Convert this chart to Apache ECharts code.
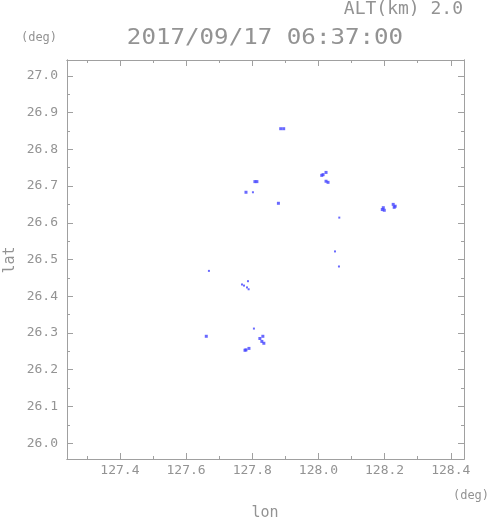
<!DOCTYPE html>
<html><head><meta charset="utf-8">
<script src="https://cdn.jsdelivr.net/npm/echarts@6/dist/echarts.min.js"></script>
<style>html,body{margin:0;padding:0;background:#fff}#c{width:491px;height:521px}</style>
</head><body><div id="c"></div>
<script>
// axis extents (deg)
const lonRange = [127.24, 128.44];
const latRange = [25.957, 27.043];
// tick positions / labels
const lonMajorTicks = [127.4, 127.6, 127.8, 128.0, 128.2, 128.4];
const lonMinorTicks = [127.3, 127.5, 127.7, 127.9, 128.1, 128.3];
const latMajorTicks = [26.0, 26.1, 26.2, 26.3, 26.4, 26.5, 26.6, 26.7, 26.8, 26.9, 27.0];
const latMinorTicks = [26.05, 26.15, 26.25, 26.35, 26.45, 26.55, 26.65, 26.75, 26.85, 26.95];
// texts
const titleText = '2017/09/17 06:37:00';
const altText = 'ALT(km) 2.0';
const unitText = '(deg)';
const xName = 'lon';
const yName = 'lat';
// echo cells (larger pixels)
const cellLon = [127.886, 127.895, 128.023, 128.014, 128.010, 128.023, 128.029, 127.808, 127.814,
  127.781, 127.879, 128.193, 128.199, 128.196, 128.226, 128.232, 128.229,
  127.661, 127.832, 127.823, 127.829, 127.835, 127.781, 127.790, 127.778];
const cellLat = [26.856, 26.856, 26.737, 26.731, 26.729, 26.713, 26.710, 26.712, 26.712,
  26.683, 26.653, 26.636, 26.634, 26.641, 26.650, 26.645, 26.642,
  26.291, 26.291, 26.285, 26.277, 26.272, 26.254, 26.258, 26.253];
// isolated specks (small pixels)
const speckLon = [127.802, 128.063, 128.050, 128.062, 127.669, 127.769, 127.775, 127.784, 127.789, 127.787, 127.805];
const speckLat = [26.683, 26.614, 26.522, 26.481, 26.469, 26.432, 26.429, 26.424, 26.419, 26.441, 26.312];

const AX = '#a0a0a0', TX = '#939393';
const FONT = 'DejaVu Sans Mono';
const BLUE = '#4444ff';

function tickAxis(pos, range, ticks, len, labels) {
  return {
    type: 'value', position: pos, min: range[0], max: range[1],
    axisLine: { show: true, onZero: false, lineStyle: { color: AX, width: 1 } },
    axisTick: { show: true, inside: true, length: len, customValues: ticks, lineStyle: { color: AX, width: 1 } },
    axisLabel: labels ? {
      show: true, customValues: ticks, formatter: v => v.toFixed(1),
      color: TX, fontFamily: FONT, fontSize: 13, margin: pos === 'bottom' ? 5 : 9
    } : { show: false },
    splitLine: { show: false }, minorTick: { show: false }, minorSplitLine: { show: false }
  };
}

const chart = echarts.init(document.getElementById('c'));
chart.setOption({
  animation: false,
  backgroundColor: '#fff',
  grid: { left: 67, right: 27, top: 60, bottom: 62, containLabel: false },
  xAxis: [
    tickAxis('bottom', lonRange, lonMajorTicks, 6, true),
    tickAxis('bottom', lonRange, lonMinorTicks, 3, false),
    tickAxis('top', lonRange, lonMajorTicks, 6, false),
    tickAxis('top', lonRange, lonMinorTicks, 3, false)
  ],
  yAxis: [
    tickAxis('left', latRange, latMajorTicks, 6, true),
    tickAxis('left', latRange, latMinorTicks, 3, false),
    tickAxis('right', latRange, latMajorTicks, 6, false),
    tickAxis('right', latRange, latMinorTicks, 3, false)
  ],
  series: [
    { type: 'scatter', xAxisIndex: 0, yAxisIndex: 0, symbol: 'rect', symbolSize: 3, silent: true,
      itemStyle: { color: BLUE }, data: cellLon.map((v, i) => [v, cellLat[i]]) },
    { type: 'scatter', xAxisIndex: 0, yAxisIndex: 0, symbol: 'rect', symbolSize: 2, silent: true,
      itemStyle: { color: BLUE }, data: speckLon.map((v, i) => [v, speckLat[i]]) }
  ],
  graphic: [
    { type: 'text', x: 265, y: 39, scaleX: 1.15, style: { text: titleText, font: '21px "DejaVu Sans Mono"', fill: TX, align: 'center', verticalAlign: 'middle' } },
    { type: 'text', x: 463, y: 9, style: { text: altText, font: '18px "DejaVu Sans Mono"', fill: TX, align: 'right', verticalAlign: 'middle' } },
    { type: 'text', x: 39, y: 38, style: { text: unitText, font: '12px "DejaVu Sans Mono"', fill: TX, align: 'center', verticalAlign: 'middle' } },
    { type: 'text', x: 471, y: 496, style: { text: unitText, font: '12px "DejaVu Sans Mono"', fill: TX, align: 'center', verticalAlign: 'middle' } },
    { type: 'text', x: 265, y: 513, style: { text: xName, font: '15px "DejaVu Sans Mono"', fill: TX, align: 'center', verticalAlign: 'middle' } },
    { type: 'text', x: 10, y: 260, rotation: Math.PI / 2, style: { text: yName, font: '15px "DejaVu Sans Mono"', fill: TX, align: 'center', verticalAlign: 'middle' } }
  ]
});
</script></body></html>
